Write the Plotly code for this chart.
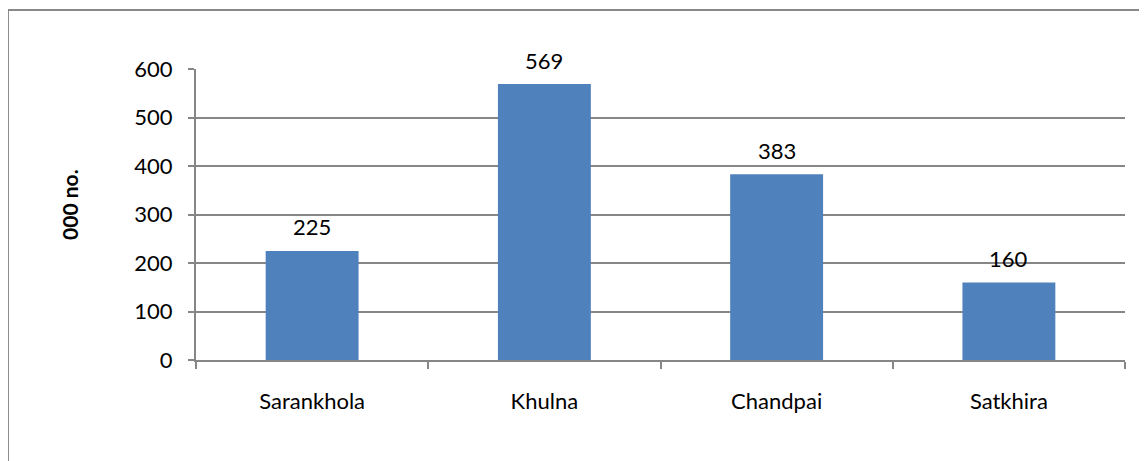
import plotly.graph_objects as go

categories = ["Sarankhola", "Khulna", "Chandpai", "Satkhira"]
values = [225, 569, 383, 160]
y_ticks = [0, 100, 200, 300, 400, 500, 600]

FONT = "Lato, Open Sans, sans-serif"
GRAY = "#868686"
FS = 22

fig = go.Figure(go.Bar(
    x=categories, y=values,
    marker=dict(color="#4F81BD", line=dict(width=0)),
    width=0.4, hoverinfo="skip",
))

annotations = [dict(
    x=c, y=v, text=str(v), xref="x", yref="y", showarrow=False,
    yanchor="middle", yshift=24, font=dict(family=FONT, size=FS, color="#000000"),
) for c, v in zip(categories, values)]

annotations.append(dict(
    text="<b>000 no.</b>", textangle=-90, xref="paper", yref="paper",
    x=-0.1356, y=0.533, showarrow=False, font=dict(family=FONT, size=21, color="#000000"),
    xanchor="center", yanchor="middle",
))

fig.update_layout(
    width=1147, height=461,
    margin=dict(l=188, r=30, t=61, b=109),
    paper_bgcolor="white", plot_bgcolor="white",
    showlegend=False,
    font=dict(family=FONT, size=FS, color="#000000"),
    xaxis=dict(
        type="category", showline=True, linecolor=GRAY, linewidth=2,
        ticks="outside", tickson="boundaries", ticklen=7, tickcolor=GRAY, tickwidth=2,
        ticklabelstandoff=21, showgrid=False, zeroline=False,
        tickfont=dict(family=FONT, size=FS),
    ),
    yaxis=dict(
        range=[0, 600], tickvals=y_ticks, showline=True, linecolor=GRAY, linewidth=2,
        ticks="outside", ticklen=6, tickcolor=GRAY, tickwidth=2,
        ticklabelstandoff=11,
        showgrid=True, gridcolor=GRAY, gridwidth=2, zeroline=False,
        tickfont=dict(family=FONT, size=FS),
    ),
    annotations=annotations,
    shapes=[dict(
        type="rect", xref="paper", yref="paper",
        x0=-0.2024, y0=-0.45, x1=1.06, y1=1.2027,
        line=dict(color="#898989", width=2), fillcolor="rgba(0,0,0,0)", layer="below",
    )],
)

fig.write_html("out.html")
